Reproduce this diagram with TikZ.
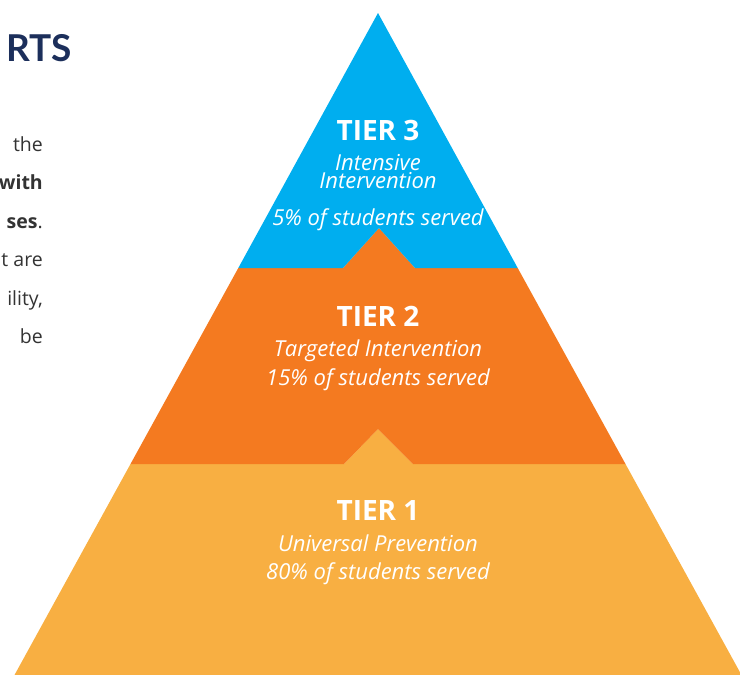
\documentclass[tikz,border=0pt]{standalone}
\usepackage{fontspec}
\setmainfont{Lato}
\newfontfamily\osans{Open Sans}
\definecolor{tblue}{HTML}{00AEEF}
\definecolor{torange}{HTML}{F47A20}
\definecolor{tyellow}{HTML}{F8AF42}
\definecolor{tnavy}{HTML}{1C2F5B}
\definecolor{tgray}{HTML}{333333}
\begin{document}
\begin{tikzpicture}[x=1pt,y=-1pt,
  tierhead/.style={anchor=base,inner sep=0pt,text=white,font=\osans\fontsize{28}{28}\selectfont\bfseries},
  tiersub/.style={anchor=base,inner sep=0pt,text=white,font=\osans\fontsize{22}{22}\selectfont\itshape},
  sidetext/.style={anchor=base east,inner sep=0pt,text=tgray,font=\osans\fontsize{19.5}{19.5}\selectfont}]
\useasboundingbox (0,0) rectangle (740,675);
% pyramid corners
\coordinate (apex) at (378,13);
\coordinate (L3) at (238.3,268);
\coordinate (R3) at (517.7,268);
\coordinate (L2) at (130.5,464);
\coordinate (R2) at (625.5,464);
\coordinate (L1) at (14.5,675);
\coordinate (R1) at (741.5,675);
% notches
\coordinate (n3a) at (343,268);
\coordinate (n3t) at (379,228);
\coordinate (n3b) at (415,268);
\coordinate (n2a) at (344,464);
\coordinate (n2t) at (378,429);
\coordinate (n2b) at (413,464);
% tiers
\fill[tyellow] (L2) -- (n2a) -- (n2t) -- (n2b) -- (R2) -- (R1) -- (L1) -- cycle;
\fill[torange] (L3) -- (n3a) -- (n3t) -- (n3b) -- (R3) -- (R2) -- (n2b) -- (n2t) -- (n2a) -- (L2) -- cycle;
\fill[tblue] (apex) -- (R3) -- (n3b) -- (n3t) -- (n3a) -- (L3) -- cycle;
% tier texts
\node[tierhead] (t3) at (378,140.5) {TIER 3};
\node[tiersub,align=center,font=\osans\fontsize{22}{18.5}\selectfont\itshape] (t3a) at (378,188.5) {Intensive\\Intervention};
\node[tiersub] (t3c) at (378,225) {5\% of students served};
\node[tierhead] (t2) at (378,326.5) {TIER 2};
\node[tiersub] (t2a) at (378,356.5) {Targeted Intervention};
\node[tiersub] (t2b) at (378,385) {15\% of students served};
\node[tierhead] (t1) at (378,520) {TIER 1};
\node[tiersub] (t1a) at (378,551) {Universal Prevention};
\node[tiersub] (t1b) at (378,579) {80\% of students served};
% left fragments
\node[anchor=base east,inner sep=0pt,text=tnavy,font=\fontsize{37}{37}\selectfont\bfseries] (title) at (72,61) {RTS};
\node[sidetext] (s1) at (43,151) {the};
\node[sidetext] (s2) at (43,189.5) {\bfseries with};
\node[sidetext] (s3) at (43,228) {\textbf{ses}.};
\node[sidetext] (s4) at (43,266.5) {t are};
\node[sidetext] (s5) at (43,305) {ility,};
\node[sidetext] (s6) at (43,343.5) {be};
\end{tikzpicture}
\end{document}
